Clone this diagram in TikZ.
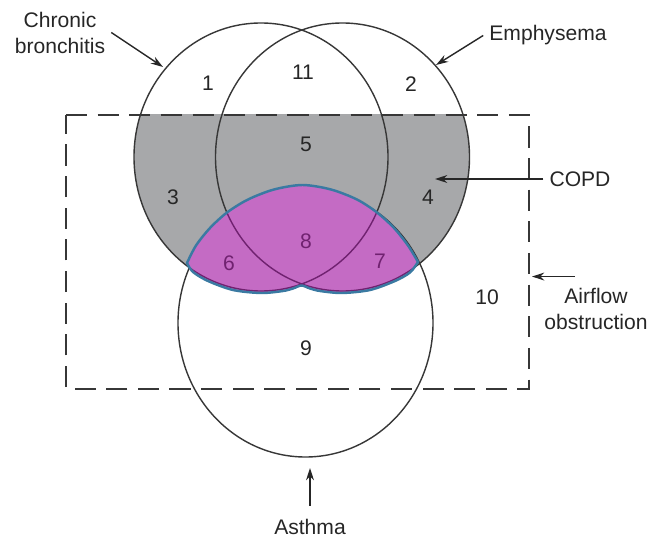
\documentclass[tikz,border=0pt]{standalone}
\usepackage{fontspec}
\setmainfont{Liberation Sans}
\usetikzlibrary{positioning, arrows.meta}

\definecolor{copdgrey}{RGB}{167,168,170}
\definecolor{overlap}{RGB}{196,107,196}
\definecolor{overlapline}{RGB}{112,34,112}
\definecolor{overlapedge}{RGB}{58,122,162}
\definecolor{inkline}{RGB}{55,55,55}

% region shared by COPD and asthma
\newcommand{\overlapblob}{plot[smooth] coordinates {(3.74,5.62) (3.92,5.97) (4.20,6.32) (4.54,6.63)
  (4.96,6.89) (5.48,7.09) (6.05,7.18) (6.62,7.09) (7.14,6.89) (7.54,6.63) (7.88,6.32) (8.16,5.97) (8.36,5.64)}
  -- plot[smooth] coordinates {(8.36,5.64) (8.20,5.43) (7.90,5.26) (7.40,5.08) (6.84,5.02) (6.40,5.06)
  (6.20,5.11) (6.03,5.17) (5.86,5.11) (5.66,5.06) (5.22,5.02) (4.66,5.08) (4.16,5.26) (3.86,5.44) (3.74,5.62)} -- cycle}

\begin{document}
\begin{tikzpicture}[
      set/.style={draw=inkline, line width=0.8pt},
      setsize/.style={x radius=2.54, y radius=2.68},
      num/.style={font=\fontsize{12}{14}\selectfont, text=black!85},
      label/.style={font=\fontsize{12}{14.8}\selectfont, align=center, text=black!85},
      arrow/.style={-{Stealth[length=7pt, width=4.5pt]}, line width=0.8pt, draw=black!85}
    ]
      \useasboundingbox (0,0) rectangle (13.08,10.88);

      % Set centres
      \coordinate (bronchitis) at (5.22,7.74);
      \coordinate (emphysema) at (6.85,7.74);
      \coordinate (asthmaset) at (6.11,4.42);

      % COPD shading inside the box
      \begin{scope}
        \clip (0,0) rectangle (13.08,8.58);
        \fill[copdgrey] (bronchitis) ellipse[setsize] (emphysema) ellipse[setsize];
      \end{scope}

      % Sets
      \draw[set] (asthmaset) ellipse[x radius=2.55, y radius=2.68];
      \draw[set] (bronchitis) ellipse[setsize];
      \draw[set] (emphysema) ellipse[setsize];

      % Overlap with asthma
      \fill[overlap] \overlapblob;
      \begin{scope}
        \clip \overlapblob;
        \draw[overlapline, line width=0.8pt] (bronchitis) ellipse[setsize] (emphysema) ellipse[setsize];
      \end{scope}
      \draw[overlapedge, line width=1.4pt, line join=round] \overlapblob;

      % Airflow obstruction box
      \draw[inkline, line width=1.1pt, dash pattern=on 12pt off 6pt]
        (1.32,8.58) -- (10.58,8.58) -- (10.58,3.10) -- (1.32,3.10) -- cycle;

      % Region numbers
      \node[num] (r1) at (4.16,9.22) {1};
      \node[num] (r11) at (6.06,9.44) {11};
      \node[num] (r2) at (8.22,9.20) {2};
      \node[num] (r5) at (6.12,8.00) {5};
      \node[num] (r3) at (3.46,6.94) {3};
      \node[num] (r4) at (8.56,6.94) {4};
      \node[num, text=overlapline] (r8) at (6.12,6.06) {8};
      \node[num, text=overlapline] (r6) at (4.58,5.62) {6};
      \node[num, text=overlapline] (r7) at (7.60,5.66) {7};
      \node[num] (r10) at (9.74,4.94) {10};
      \node[num] (r9) at (6.12,3.92) {9};

      % Labels
      \node[label] (chronic) at (1.20,10.23) {Chronic\\bronchitis};
      \node[label] (emph) at (10.96,10.17) {Emphysema};
      \node[label] (copd) at (11.60,7.30) {COPD};
      \node[label] (airflow) at (11.92,4.70) {Airflow\\obstruction};
      \node[label] (asthma) at (6.20,0.34) {Asthma};

      \coordinate (chronic tip) at (3.26,9.54);
      \coordinate (emph tip) at (8.72,9.58);
      \coordinate (copd tip) at (8.70,7.30);
      \coordinate (airflow tip) at ([xshift=-1.28cm, yshift=0.11cm]airflow.north);
      \coordinate (asthma tip) at (6.20,1.52);

      % Arrows
      \draw[arrow] (chronic.east) -- (chronic tip);
      \draw[arrow] (emph.west) -- (emph tip);
      \draw[arrow] (copd.west) -- (copd tip);
      \draw[arrow] ([xshift=-0.42cm, yshift=0.11cm]airflow.north) -- (airflow tip);
      \draw[arrow] ([yshift=0.15cm]asthma.north) -- (asthma tip);

    \end{tikzpicture}
\end{document}
